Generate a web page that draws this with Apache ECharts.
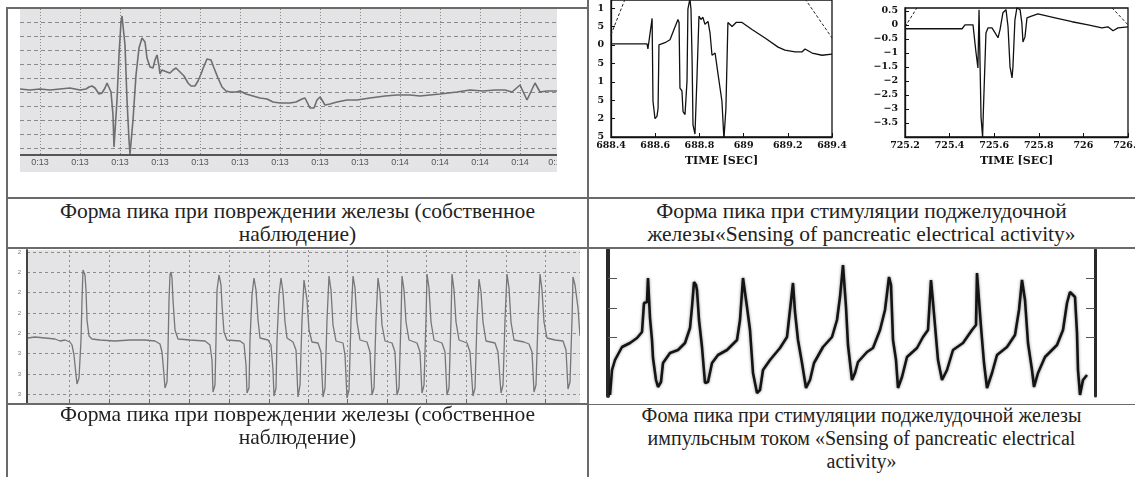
<!DOCTYPE html>
<html>
<head>
<meta charset="utf-8">
<title>Форма пика</title>
<script src="https://cdn.jsdelivr.net/npm/echarts@6/dist/echarts.min.js"></script>
<style>
  body { margin: 0; background: #fff; }
  #page { position: relative; width: 1135px; height: 477px; overflow: hidden; background: #fff; }
  .hl { position: absolute; height: 0; border-top: 2px solid #6a6a6a; }
  .vl { position: absolute; width: 0; border-left: 2px solid #6a6a6a; }
  .cap { position: absolute; text-align: center; font-family: "Liberation Serif", "Times New Roman", serif;
         font-size: 21.5px; line-height: 23px; color: #222; }
  .cap.small { font-size: 20px; }
  .box { position: absolute; }
</style>
</head>
<body>
<div id="page">
  <div class="hl" style="left:7px;top:7px;width:581px"></div>
  <div class="hl" style="left:7px;top:197px;width:1128px"></div>
  <div class="hl" style="left:7px;top:247px;width:1128px"></div>
  <div class="hl" style="left:7px;top:403px;width:1128px"></div>
  <div class="vl" style="left:6px;top:7px;height:470px"></div>
  <div class="vl" style="left:587px;top:0;height:477px"></div>

  <div id="p1" class="box" style="left:20px;top:9px;width:537px;height:163px;background:#e4e4e6"></div>
  <div id="p23" class="box" style="left:597px;top:0;width:538px;height:172px;background:#fff"></div>
  <div id="p4" class="box" style="left:8px;top:249px;width:572px;height:154px"></div>
  <div id="p5" class="box" style="left:589px;top:249px;width:546px;height:155px;background:#fff"></div>

  <div class="cap" style="left:7px;top:200px;width:581px">Форма пика при повреждении железы (собственное<br>наблюдение)</div>
  <div class="cap" style="left:588px;top:200px;width:547px">Форма пика при стимуляции поджелудочной<br>железы«Sensing of pancreatic electrical activity»</div>
  <div class="cap" style="left:7px;top:403px;width:581px">Форма пика при повреждении железы (собственное<br>наблюдение)</div>
  <div class="cap small" style="left:588px;top:404px;width:547px">Фома пика при стимуляции поджелудочной железы<br>импульсным током «Sensing of pancreatic electrical<br>activity»</div>
</div>

<script>
//панель 1: собственное наблюдение, одиночный пик
var p1Time = [0,10,20,30,40,50,60,66,69,72,75,79,82,85,87,89,91,93,94,95,97,99,101,102,103,105,107,109,110,111,113,116,119,122,125,127,130,133,135,137,139,140,142,144,147,150,153,156,160,164,168,171,175,178,181,184,187,191,194,198,202,206,210,216,220,226,233,240,247,253,260,270,276,282,285,288,290,294,297,300,302,305,310,317,327,337,350,365,377,390,400,420,437,450,463,475,485,492,500,507,515,520,527,537];
var p1Signal = [66,65,66,65,66,67,65,66,68,69,67,61,62,67,72,70,63,40,8,9,55,100,133,139,138,110,55,15,1,1,35,80,107,117,113,97,88,87,95,100,89,81,85,87,83,82,85,87,83,79,72,69,69,74,81,89,96,95,87,77,68,64,63,63,64,61,59,57,56,53,52,52,53,56,57,51,47,47,55,58,55,50,51,53,55,55,57,59,60,60,59,61,63,65,64,65,65,63,70,55,72,63,64,64];
var p1GridX = [20,60,100,140,180,220,260,300,340,380,420,460,500];
var p1LabelX = [20,60,100,140,180,220,260,300,340,380,420,460,500,537];
var p1LabelText = ['0:13','0:13','0:13','0:13','0:13','0:13','0:13','0:13','0:13','0:14','0:14','0:14','0:14','0:14'];
var p1GridY = [7,21,35,49,63,77,91,105,119,133];

//панель 2: стимуляция, 688.4 - 689.4 с
var p2Time = [688.400,688.563,688.567,688.586,688.590,688.599,688.608,688.613,688.617,688.644,688.667,688.685,688.703,688.708,688.712,688.721,688.726,688.735,688.744,688.748,688.757,688.762,688.767,688.771,688.780,688.789,688.798,688.807,688.816,688.825,688.839,688.848,688.857,688.871,688.884,688.902,688.911,688.920,688.929,688.934,688.948,688.966,688.993,689.038,689.097,689.156,689.187,689.233,689.264,689.278,689.310,689.355,689.400];
var p2Volt = [0.03,0.03,-0.11,0.72,-1.53,-2.0,-1.94,-1.72,0.0,0.06,0.14,0.42,0.69,0.61,-1.17,-1.25,-1.81,-1.89,-0.97,0.97,1.25,0.97,-0.42,-2.17,-2.42,-0.89,0.78,0.69,0.75,0.56,0.64,0.33,-0.28,-0.22,-0.78,-1.53,-2.56,-1.72,0.61,0.56,0.5,0.61,0.61,0.42,0.19,-0.06,-0.14,-0.19,-0.19,-0.11,-0.22,-0.28,-0.25];
var p2EnvLeft = [[688.4,0.28],[688.464,1.25]];
var p2EnvRight = [[689.278,1.25],[689.4,0.19]];

//панель 3: стимуляция, 725.2 - 726.2 с
var p3Time = [725.2,725.456,725.469,725.505,725.518,725.527,725.532,725.536,725.541,725.548,725.552,725.559,725.563,725.572,725.590,725.604,725.617,725.626,725.639,725.653,725.662,725.671,725.680,725.684,725.693,725.702,725.716,725.724,725.729,725.738,725.747,725.761,725.796,725.873,725.949,726.021,726.083,726.110,726.133,726.155,726.2];
var p3Volt = [-0.14,-0.14,0.0,0.0,-0.96,-1.54,0.54,0.61,-3.29,-4.0,-2.93,-2.86,-0.29,-0.11,-0.11,-0.29,-0.46,-0.18,0.43,0.54,-0.07,-1.5,-1.89,-1.5,0.18,0.61,0.54,0.07,-0.61,-0.43,0.25,0.29,0.39,0.25,0.11,0.0,-0.11,-0.07,-0.21,-0.11,-0.07];
var p3EnvLeft = [[725.2,-0.07],[725.254,0.61]];
var p3EnvRight = [[726.128,0.61],[726.2,0.0]];

//панель 4: серия пиков (собственное наблюдение)
var p4Trace = [[1,56],[8,57],[18,56],[28,55],[33,53],[38,54],[43,52],[45,49],[47,39],[49,19],[50,10],[52,16],[54,54],[55,94],[56,124],[57,125],[58,119],[59,104],[60,74],[62,58],[65,55],[73,54],[88,53],[103,54],[118,54],[128,53],[133,50],[135,42],[137,19],[138,6],[140,12],[141,44],[142,94],[143,119],[144,122],[145,116],[146,94],[148,64],[151,55],[163,54],[178,53],[183,49],[185,34],[186,2],[188,9],[189,54],[190,104],[192,119],[194,109],[195,89],[197,62],[200,54],[213,53],[217,50],[219,29],[220,1],[222,6],[223,54],[225,99],[227,116],[229,104],[231,74],[233,56],[241,54],[244,49],[246,24],[247,-2],[249,6],[250,54],[252,99],[254,116],[256,102],[258,72],[260,56],[266,52],[269,44],[271,-3],[273,9],[275,74],[277,114],[278,116],[280,94],[282,64],[285,52],[291,51],[294,42],[296,-3],[298,6],[300,74],[302,118],[304,104],[306,69],[309,53],[316,51],[318,39],[320,-4],[322,4],[324,74],[326,118],[328,106],[330,72],[333,54],[340,52],[343,42],[345,-1],[347,6],[349,74],[351,116],[353,102],[355,69],[358,53],[365,51],[368,42],[370,-1],[372,6],[374,74],[375,118],[377,104],[379,72],[382,54],[390,51],[393,42],[395,1],[397,9],[399,74],[400,120],[402,106],[404,72],[407,54],[415,51],[418,42],[420,-1],[422,6],[424,74],[425,120],[427,104],[429,72],[432,54],[440,51],[443,42],[446,-2],[448,6],[450,74],[452,115],[454,102],[456,72],[459,53],[468,51],[471,42],[474,1],[476,9],[478,74],[480,120],[482,106],[484,72],[487,54],[497,52],[502,50],[505,42],[507,2],[509,9],[511,74],[513,120],[515,104],[517,72],[520,56],[528,54],[536,53],[539,44],[541,5],[543,12],[545,74],[546,117],[548,109],[551,86],[553,58]];
var p4GridX = [42,82,122,162,202,242,281,320,360,399,439,479,518];
var p4GridY = [0,20,41,61,81,102,122,142];
var p4LabelText = ['3','3','3','2','2','2','2','2'];

//панель 5: импульсный ток
var p5Trace = [[2,1],[4,26],[7,36],[14,49],[22,53],[29,58],[34,64],[36,93],[39,94],[40,118],[42,78],[44,56],[45,38],[48,16],[50,9],[53,14],[55,33],[62,43],[70,46],[77,53],[82,68],[84,89],[86,114],[88,111],[89,106],[91,76],[94,49],[97,13],[100,14],[104,33],[110,41],[119,46],[129,56],[132,76],[135,118],[139,89],[142,66],[145,23],[149,3],[152,6],[155,26],[162,36],[172,48],[179,59],[182,86],[185,113],[187,84],[190,56],[194,33],[198,8],[202,16],[206,33],[215,49],[224,59],[229,76],[232,99],[235,131],[238,89],[240,51],[244,16],[247,23],[250,34],[259,44],[265,48],[272,66],[277,86],[281,119],[283,111],[285,56],[288,36],[290,8],[294,19],[299,39],[309,48],[315,59],[320,66],[323,116],[325,94],[328,59],[330,36],[334,16],[339,26],[345,46],[355,53],[364,66],[368,71],[369,123],[373,69],[376,33],[379,8],[384,23],[389,41],[399,49],[407,61],[411,86],[414,116],[417,96],[420,53],[424,26],[426,9],[430,23],[437,39],[449,51],[455,66],[459,93],[462,104],[467,99],[469,63],[470,26],[472,1],[475,16],[479,21]];
var p5TickY = [59,88,118];

var axisFont = 'DejaVu Serif';

//склеить два массива в пары [x, y]
function Zip (xs, ys) {
  var out = [];
  for (var i = 0; i < xs.length; i++) {
    out.push([xs[i], ys[i]]);
  }
  return out;
}

function MinusSign (v) {
  return String(v).replace('-', '\u2212');
}

function InitPanel1 () {
  var chart = echarts.init(document.getElementById('p1'));
  chart.setOption({
    animation: false,
    grid: { left: 0, right: 0, top: 0, bottom: 17, outerBoundsMode: 'none' },
    xAxis: {
      type: 'value', min: 0, max: 537,
      axisLine: { onZero: false, lineStyle: { color: '#555', width: 2 } },
      axisTick: { show: false, customValues: p1GridX },
      axisLabel: {
        customValues: p1LabelX, margin: 3, fontSize: 9, color: '#555', fontFamily: 'Liberation Sans',
        formatter: function (v) { return p1LabelText[p1LabelX.indexOf(v)]; }
      },
      splitLine: { show: true, lineStyle: { color: '#8a8a8a', type: [1, 2], width: 1 } }
    },
    yAxis: {
      type: 'value', min: 0, max: 146,
      axisLine: { show: false },
      axisTick: { show: false, customValues: p1GridY },
      axisLabel: { show: false },
      splitLine: { show: true, lineStyle: { color: '#8a8a8a', type: [4, 3], width: 1 } }
    },
    series: [{
      type: 'line', data: Zip(p1Time, p1Signal), showSymbol: false, clip: false,
      lineStyle: { color: '#6e6e6e', width: 1.6 }
    }]
  });
}

function InitPanel23 () {
  var chart = echarts.init(document.getElementById('p23'));
  var labelStyle = { fontFamily: axisFont, fontWeight: 'bold', fontSize: 9.5, color: '#111' };
  function TimeAxis (idx, lo, hi) {
    return {
      type: 'value', gridIndex: idx, min: lo, max: hi, interval: 0.2,
      name: 'TIME [SEC]', nameLocation: 'middle', nameGap: 19,
      nameTextStyle: { fontFamily: axisFont, fontWeight: 'bold', fontSize: 11, color: '#111' },
      axisLine: { onZero: false, lineStyle: { color: '#111', width: 1.3 } },
      axisTick: { inside: true, length: 4, lineStyle: { color: '#111' } },
      axisLabel: Object.assign({ margin: 4, showMinLabel: true, showMaxLabel: true }, labelStyle),
      splitLine: { show: false }
    };
  }
  function VoltAxis (idx, lo, hi) {
    return {
      type: 'value', gridIndex: idx, min: lo, max: hi, interval: 0.5,
      axisLine: { onZero: false, lineStyle: { color: '#111', width: 1.3 } },
      axisTick: { inside: true, length: 4, lineStyle: { color: '#111' } },
      axisLabel: Object.assign({ margin: 7, showMinLabel: idx === 0, formatter: MinusSign }, labelStyle),
      splitLine: { show: false }
    };
  }
  chart.setOption({
    animation: false,
    grid: [
      { left: 14, top: 0, width: 221, bottom: 35, show: true, borderColor: '#111', borderWidth: 1.3, outerBoundsMode: 'none' },
      { left: 308, top: 8, width: 223, bottom: 35, show: true, borderColor: '#111', borderWidth: 1.3, outerBoundsMode: 'none' }
    ],
    xAxis: [TimeAxis(0, 688.4, 689.4), TimeAxis(1, 725.2, 726.2)],
    yAxis: [VoltAxis(0, -2.5, 1.22), VoltAxis(1, -4, 0.6)],
    series: [
      { type: 'line', xAxisIndex: 0, yAxisIndex: 0, data: Zip(p2Time, p2Volt), showSymbol: false, lineStyle: { color: '#111', width: 1.3 } },
      { type: 'line', xAxisIndex: 0, yAxisIndex: 0, data: p2EnvLeft, showSymbol: false, lineStyle: { color: '#222', width: 1, type: [3, 2] } },
      { type: 'line', xAxisIndex: 0, yAxisIndex: 0, data: p2EnvRight, showSymbol: false, lineStyle: { color: '#222', width: 1, type: [3, 2] } },
      { type: 'line', xAxisIndex: 1, yAxisIndex: 1, data: Zip(p3Time, p3Volt), showSymbol: false, lineStyle: { color: '#111', width: 1.3 } },
      { type: 'line', xAxisIndex: 1, yAxisIndex: 1, data: p3EnvLeft, showSymbol: false, lineStyle: { color: '#222', width: 1, type: [3, 2] } },
      { type: 'line', xAxisIndex: 1, yAxisIndex: 1, data: p3EnvRight, showSymbol: false, lineStyle: { color: '#222', width: 1, type: [3, 2] } }
    ]
  });
}

function InitPanel4 () {
  var chart = echarts.init(document.getElementById('p4'));
  chart.setOption({
    animation: false,
    grid: { left: 19, right: 0, top: 1, bottom: 0, show: true, backgroundColor: '#e4e4e6', borderWidth: 0, outerBoundsMode: 'none' },
    xAxis: {
      type: 'value', min: 0, max: 553,
      axisLine: { onZero: false, lineStyle: { color: '#777', width: 1 } },
      axisTick: { inside: true, length: 4, customValues: p4GridX, lineStyle: { color: '#666' } },
      axisLabel: { show: false },
      splitLine: { show: true, lineStyle: { color: '#8c8c8c', type: [2, 3], width: 1 } }
    },
    yAxis: {
      type: 'value', min: -9, max: 144,
      axisLine: { show: true, onZero: false, lineStyle: { color: '#444', width: 2 } },
      axisTick: { show: false, customValues: p4GridY },
      axisLabel: {
        customValues: p4GridY, margin: 6, fontSize: 6, color: '#777',
        formatter: function (v) { return p4LabelText[p4GridY.indexOf(v)]; }
      },
      splitLine: { show: true, lineStyle: { color: '#8c8c8c', type: [3, 3], width: 1 } }
    },
    series: [{
      type: 'line', data: p4Trace, showSymbol: false, clip: false,
      lineStyle: { color: '#767676', width: 1.3 }
    }]
  });
}

function InitPanel5 () {
  var chart = echarts.init(document.getElementById('p5'));
  function SideAxis (pos, w) {
    return {
      type: 'value', position: pos, min: 0, max: 146,
      axisLine: { show: true, onZero: false, lineStyle: { color: '#2a2a2a', width: w } },
      axisTick: { show: true, inside: true, length: 9, customValues: p5TickY, lineStyle: { color: '#555', width: 1 } },
      axisLabel: { show: false },
      splitLine: { show: false }
    };
  }
  chart.setOption({
    animation: false,
    grid: { left: 19, width: 487, top: 1, bottom: 8, outerBoundsMode: 'none' },
    xAxis: { type: 'value', min: 0, max: 487, show: false },
    yAxis: [SideAxis('left', 4), SideAxis('right', 3)],
    series: [{
      type: 'line', data: p5Trace, showSymbol: false,
      lineStyle: { color: '#141414', width: 2.6, shadowColor: 'rgba(0,0,0,0.45)', shadowBlur: 3 }
    }]
  });
}

InitPanel1();
InitPanel23();
InitPanel4();
InitPanel5();
</script>
</body>
</html>
